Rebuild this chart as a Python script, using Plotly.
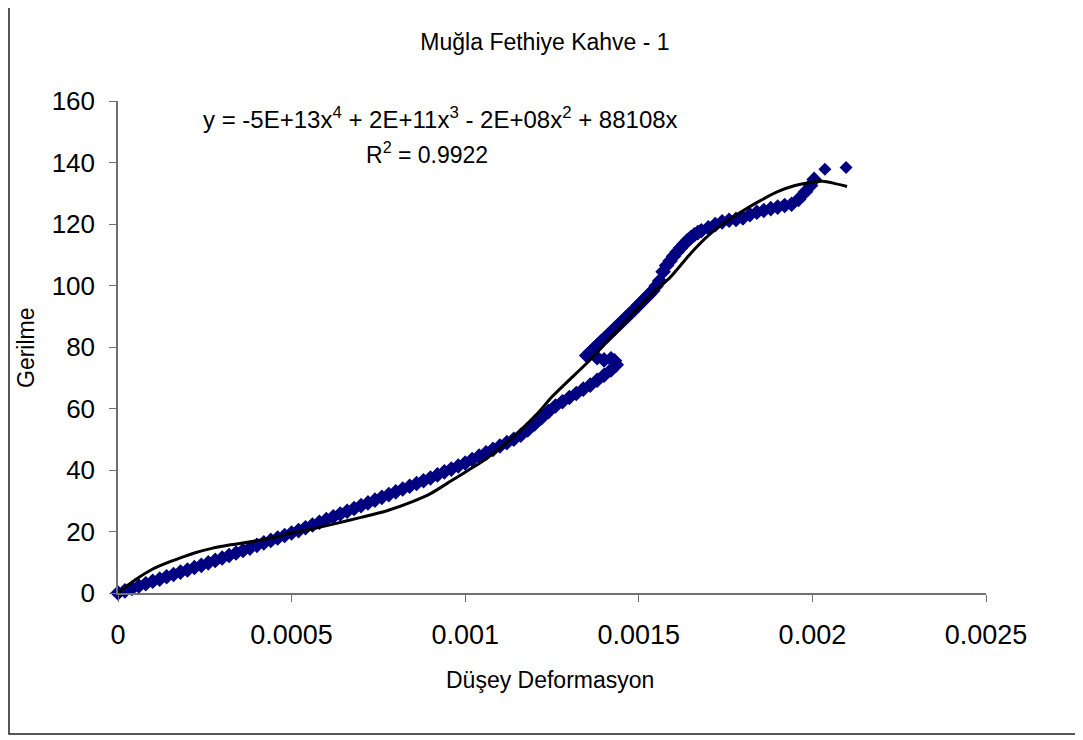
import plotly.graph_objects as go

deform = [
    0.0, 0.00002, 0.00004, 0.00006, 0.00008, 0.00010, 0.00012, 0.00014, 0.00016, 0.00018,
    0.00020, 0.00022, 0.00024, 0.00026, 0.00028, 0.00030, 0.00032, 0.00034, 0.00036, 0.00038,
    0.00040, 0.00042, 0.00044, 0.00046, 0.00048, 0.00050, 0.00052, 0.00054, 0.00056, 0.00058,
    0.00060, 0.00062, 0.00064, 0.00066, 0.00068, 0.00070, 0.00072, 0.00074, 0.00076, 0.00078,
    0.00080, 0.00082, 0.00084, 0.00086, 0.00088, 0.00090, 0.00092, 0.00094, 0.00096, 0.00098,
    0.00100, 0.00102, 0.00104, 0.00106, 0.00108, 0.00110, 0.00112, 0.00114, 0.00116, 0.00118,
    0.00120, 0.00122, 0.00124, 0.00126, 0.00128, 0.00130, 0.00132, 0.00134, 0.00136, 0.00138,
    0.00140, 0.00142, 0.001435, 0.00143, 0.00142, 0.00140, 0.00138,
    0.00135, 0.00136, 0.00137, 0.00138, 0.00139, 0.00140, 0.00141, 0.00142, 0.00143, 0.00144,
    0.00145, 0.00146, 0.00147, 0.00148, 0.00149, 0.00150, 0.00151, 0.00152, 0.00153, 0.00154,
    0.00155, 0.00156, 0.00157, 0.00158, 0.00159, 0.00160, 0.00161, 0.00162, 0.00163, 0.00164,
    0.00165, 0.00166, 0.00167, 0.00168, 0.00170, 0.00172, 0.00174, 0.00176, 0.00178, 0.00180,
    0.00182, 0.00184, 0.00186, 0.00188, 0.00190, 0.00192, 0.00194, 0.00196, 0.00198, 0.001995,
    0.002005, 0.002036, 0.002097,
]
gerilme = [
    0.0, 0.7, 1.5, 2.3, 3.0, 3.8, 4.5, 5.3, 6.0, 6.8,
    7.5, 8.3, 9.0, 9.8, 10.6, 11.4, 12.2, 13.0, 13.8, 14.6,
    15.5, 16.3, 17.1, 17.9, 18.7, 19.5, 20.3, 21.2, 22.1, 23.0,
    23.9, 24.8, 25.7, 26.6, 27.5, 28.4, 29.3, 30.2, 31.1, 32.0,
    32.9, 33.8, 34.7, 35.6, 36.5, 37.4, 38.4, 39.4, 40.3, 41.3,
    42.3, 43.4, 44.5, 45.6, 46.7, 47.8, 48.9, 50.0, 51.3, 53.0,
    55.0, 57.0, 59.0, 60.8, 62.2, 63.6, 64.9, 66.3, 67.6, 69.2,
    70.8, 72.5, 74.2, 75.5, 76.2, 75.8, 76.5,
    77.2, 78.3, 79.4, 80.5, 81.6, 82.6, 83.7, 84.8, 85.9, 87.0,
    88.1, 89.2, 90.3, 91.4, 92.5, 93.7, 94.8, 96.0, 97.1, 98.3,
    99.8, 101.5, 104.5, 106.5, 108.0, 109.5, 110.9, 112.2, 113.4, 114.6,
    115.6, 116.5, 117.2, 117.8, 118.8, 119.8, 120.7, 121.2, 121.5, 122.0,
    123.0, 123.8, 124.4, 125.0, 125.5, 126.0, 126.4, 128.0, 130.5, 132.5,
    134.5, 137.8, 138.4,
]

# Polynomial trend line
trend_x = [
    0.0, 0.00002, 0.00005, 0.00010, 0.00015, 0.00018, 0.00022, 0.00027, 0.00032, 0.00039,
    0.00045, 0.00050, 0.00055, 0.00062, 0.00070, 0.00077, 0.00085, 0.00090, 0.00096, 0.00101,
    0.00106, 0.00111, 0.00116, 0.00121, 0.00125, 0.00130, 0.00135, 0.00140, 0.00145, 0.00150,
    0.00154, 0.00159, 0.00165, 0.00170, 0.00175, 0.00180, 0.00185, 0.00190, 0.00195, 0.00200,
    0.00203, 0.00206, 0.00210,
]
trend_y = [
    0.0, 1.8, 4.3, 7.8, 10.2, 11.4, 13.0, 14.5, 15.6, 16.8,
    18.1, 19.5, 20.6, 22.4, 24.6, 26.6, 29.8, 32.3, 36.5, 40.0,
    43.6, 48.0, 53.0, 58.6, 63.8, 69.3, 74.7, 80.7, 86.8, 92.8,
    97.5, 102.6, 110.5, 116.2, 120.6, 124.3, 127.6, 130.5, 132.5, 133.6,
    133.9, 133.3, 132.2,
]

title_text = "Muğla Fethiye Kahve - 1"
x_title = "Düşey Deformasyon"
y_title = "Gerilme"
eq_line1 = "y = -5E+13x<sup>4</sup> + 2E+11x<sup>3</sup> - 2E+08x<sup>2</sup> + 88108x"
eq_line2 = "R<sup>2</sup> = 0.9922"
x_ticks = [0, 0.0005, 0.001, 0.0015, 0.002, 0.0025]
x_ticklabels = ["0", "0.0005", "0.001", "0.0015", "0.002", "0.0025"]
y_ticks = [0, 20, 40, 60, 80, 100, 120, 140, 160]

FONT = "Liberation Sans, Arial, sans-serif"

# the page body has an 8px margin; the figure is sized so it fills the window
OFF = 8
W, H = 1083 - OFF, 740 - OFF
# plot area in window pixels: x 118..986, y 101..593
L, R, T, B = 118 - OFF, 1083 - 986, 101 - OFF, 740 - 593
pw, ph = 986 - 118, 593 - 101

def px_x(px):
    return (px - 118) / pw

def px_y(py):
    return (593 - py) / ph

marker_sizes = [12] * (len(deform) - 2) + [10, 10]

fig = go.Figure()
fig.add_trace(go.Scatter(
    x=deform, y=gerilme, mode="markers",
    marker=dict(symbol="diamond", size=marker_sizes, color="#000080", opacity=1,
                line=dict(width=0)),
    showlegend=False, cliponaxis=False,
))
fig.add_trace(go.Scatter(
    x=trend_x, y=trend_y, mode="lines",
    line=dict(color="black", width=3, shape="spline", smoothing=0.6),
    showlegend=False,
))

fig.update_layout(
    width=W, height=H,
    margin=dict(l=L, r=R, t=T, b=B, pad=0),
    paper_bgcolor="white", plot_bgcolor="white",
    font=dict(family=FONT, color="black"),
    title=dict(text=title_text, x=(545 - OFF) / W, xref="container",
               y=1 - (42 - OFF) / H, yref="container",
               xanchor="center", yanchor="middle",
               font=dict(size=23, family=FONT, color="black")),
    xaxis=dict(range=[0, 0.0025], tickvals=x_ticks, ticktext=x_ticklabels,
               showgrid=False, zeroline=False, showline=True, linecolor="#707070",
               linewidth=1.5, ticks="outside", ticklen=7, tickcolor="#707070",
               tickfont=dict(size=27, family=FONT), ticklabelstandoff=10),
    yaxis=dict(range=[0, 160], tickvals=y_ticks,
               showgrid=False, zeroline=False, showline=True, linecolor="#707070",
               linewidth=1.5, ticks="outside", ticklen=7, tickcolor="#707070",
               tickfont=dict(size=26, family=FONT), ticklabelstandoff=9),
    shapes=[dict(type="rect", xref="paper", yref="paper",
                 x0=px_x(9), x1=px_x(1078), y0=px_y(734), y1=px_y(5),
                 line=dict(color="#202020", width=1.5), fillcolor="rgba(0,0,0,0)",
                 layer="below")],
    annotations=[
        dict(text=eq_line1, xref="paper", yref="paper", x=px_x(440), y=px_y(118),
             xanchor="center", yanchor="middle", showarrow=False,
             font=dict(size=24, family=FONT)),
        dict(text=eq_line2, xref="paper", yref="paper", x=px_x(427), y=px_y(153),
             xanchor="center", yanchor="middle", showarrow=False,
             font=dict(size=23, family=FONT)),
        dict(text=y_title, xref="paper", yref="paper", x=px_x(26), y=px_y(348),
             xanchor="center", yanchor="middle", showarrow=False, textangle=-90,
             font=dict(size=23, family=FONT)),
        dict(text=x_title, xref="paper", yref="paper", x=px_x(550), y=px_y(680),
             xanchor="center", yanchor="middle", showarrow=False,
             font=dict(size=23, family=FONT)),
    ],
)

fig.write_html("out.html")
